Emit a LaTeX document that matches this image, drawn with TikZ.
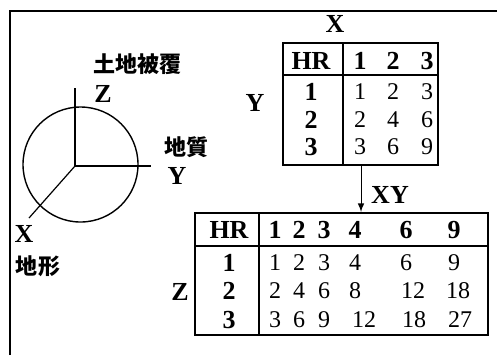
\documentclass[tikz,border=0pt]{standalone}
\usepackage{fontspec}
\setmainfont{Liberation Serif}
\newfontfamily\jp{Noto Sans CJK JP}
\usetikzlibrary{positioning}

\begin{document}
\begin{tikzpicture}[x=0.5pt, y=-0.5pt, every node/.style={inner sep=0pt, font=\fontsize{12}{14}\selectfont},
  lbl/.style={font=\fontsize{13}{15}\selectfont\bfseries},
  jlbl/.style={font=\fontsize{11}{13}\selectfont\jp\bfseries},
  tbl/.style={draw, line width=1pt, rectangle}]
\useasboundingbox (0,0) rectangle (497,355);
% frame
\draw[line width=0.8pt] (10,355) -- (10,11) -- (497,11);

% axes
\node[circle, draw, line width=0.7pt, minimum size=57.5pt] (globe) at (80.5,164.5) {};
\coordinate (o) at (75,166);
\coordinate (zend) at (75,88);
\coordinate (yend) at (151,166);
\coordinate (xend) at (29,218);
\draw[line width=0.6pt] (o) -- (zend);
\draw[line width=0.6pt] (o) -- (yend);
\draw[line width=0.6pt] (o) -- (xend);
\node[jlbl] (cover) at (137,64) {土地被覆};
\node[lbl] (zlab) at (103,94) {Z};
\node[jlbl] (geol) at (186,147) {地質};
\node[lbl] (ylab) at (177,176) {Y};
\node[lbl] (xlab) at (24,234) {X};
\node[jlbl] (terr) at (38,266) {地形};

% table XY
\node[tbl, minimum width=77.5pt, minimum height=61pt] (tabxy) at (360.5,104) {};
\draw[line width=1pt] (283,75) -- (438,75);
\draw[line width=1pt] (343,43) -- (343,165);
\node[lbl] (xtop) at (335,24) {X};
\node[lbl] (yside) at (255,103) {Y};
\node[lbl] (hr1) at (311,61) {HR};
\foreach \v/\x in {1/360, 2/393, 3/427}
  \node[lbl] at (\x,61) {\v};
\foreach \r/\y in {1/92, 2/120, 3/147}
  \node[lbl] at (311,\y) {\r};
\foreach \a/\b/\c/\y in {1/2/3/92, 2/4/6/120, 3/6/9/147} {
  \node at (360,\y) {\a};
  \node at (393,\y) {\b};
  \node at (427,\y) {\c};
}

% table XYZ
\node[tbl, minimum width=146.5pt, minimum height=61pt] (tabxyz) at (341.5,274) {};
\draw[line width=1pt] (195,246) -- (488,246);
\draw[line width=1pt] (259,213) -- (259,335);
\node[lbl] (zside) at (180,292) {Z};
\node[lbl] (hr2) at (229,230) {HR};
\foreach \v/\x in {1/275, 2/299, 3/324, 4/355, 6/406, 9/454}
  \node[lbl] at (\x,230) {\v};
\foreach \r/\y in {1/263, 2/291, 3/320}
  \node[lbl] at (229,\y) {\r};
\foreach \v/\x in {1/275, 2/299, 3/324, 4/355, 6/406, 9/454}
  \node at (\x,263) {\v};
\foreach \v/\x in {2/275, 4/299, 6/324, 8/355, 12/413, 18/458}
  \node at (\x,291) {\v};
\foreach \v/\x in {3/275, 6/299, 9/324, 12/364, 18/414, 27/460}
  \node at (\x,320) {\v};

% arrow
\coordinate (arr) at (361,0);
\draw[-latex, line width=0.5pt] (tabxy.south -| arr) -- (tabxyz.north -| arr);
\node[lbl] (xy) at (390,195) {XY};
\end{tikzpicture}
\end{document}
